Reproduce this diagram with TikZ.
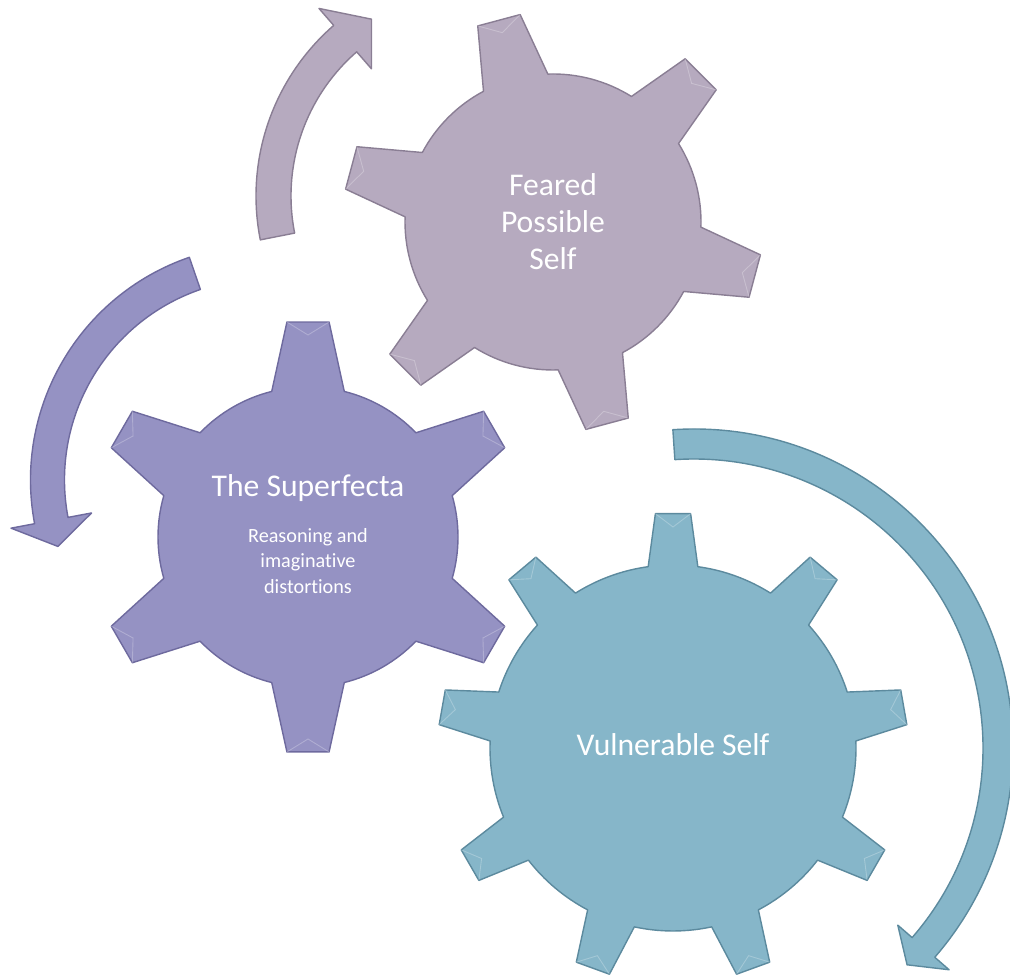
\documentclass[tikz,border=0pt]{standalone}
\usepackage{fontspec}
\setmainfont{Carlito}[Ligatures=NoCommon]
\definecolor{fearedfill}{RGB}{182,170,191}
\definecolor{fearededge}{RGB}{138,126,148}
\definecolor{superfill}{RGB}{149,146,195}
\definecolor{superedge}{RGB}{110,106,158}
\definecolor{vulnfill}{RGB}{134,182,201}
\definecolor{vulnedge}{RGB}{92,138,158}

\tikzset{
  gearline/.style={line width=0.8pt, line join=round},
  fearedgear/.style={fill=fearedfill, draw=fearededge},
  supergear/.style={fill=superfill, draw=superedge},
  vulngear/.style={fill=vulnfill, draw=vulnedge},
  facet/.style={draw=white, opacity=0.25, line width=0.5pt},
  title/.style={text=white, align=center, font=\fontsize{18}{21}\selectfont},
  subtitle/.style={text=white, align=center, font=\fontsize{11.5}{14.6}\selectfont}
}

% #1 style, #2 centre, #3 teeth, #4 body radius, #5 tip radius,
% #6 first tooth angle, #7 half angle at the base, #8 half angle at the tip
\newcommand{\gear}[8]{%
  \draw[gearline,#1,shift={#2}] (#6-#7:#4)
    \foreach \i [evaluate=\i as \ang using #6+(\i-1)*360/#3,
                 evaluate=\i as \nxt using #6+\i*360/#3-#7] in {1,...,#3}{
      -- (\ang-#7:#4) -- (\ang-#8:#5) -- (\ang+#8:#5) -- (\ang+#7:#4)
      arc[start angle=\ang+#7, end angle=\nxt, radius=#4]
    } -- cycle;
  \foreach \i [evaluate=\i as \ang using #6+(\i-1)*360/#3] in {1,...,#3}
    \draw[facet,shift={#2}] (\ang-#8:#5) -- (\ang:#5-14) -- (\ang+#8:#5);
}

% #1 style, #2 centre, #3 mid radius, #4 half width, #5 half width of the head,
% #6 tail angle, #7 angle at the head, #8 angle of the tip
\newcommand{\bentarrow}[8]{%
  \draw[gearline,#1,shift={#2}] (#6:#3+#4)
    arc[start angle=#6, end angle=#7, radius=#3+#4]
    -- (#7:#3+#5) -- (#8:#3) -- (#7:#3-#5) -- (#7:#3-#4)
    arc[start angle=#7, end angle=#6, radius=#3-#4] -- cycle;
}

\begin{document}
\begin{tikzpicture}[x=0.02cm,y=0.02cm]
  \useasboundingbox (0,0) rectangle (1010,979);

  % arrows round the gears
  \bentarrow{fearedgear}{(482,783)}{208.5}{17.5}{40}{191.2}{131}{122}
  \bentarrow{supergear}{(266,499)}{218.5}{17}{41}{109}{190.7}{197.7}
  \bentarrow{vulngear}{(694,231)}{304}{15}{34}{93.8}{-41}{-45.5}

  % gears
  \gear{fearedgear}{(553,757)}{6}{148}{210}{105}{13}{6}
  \gear{supergear}{(308,442)}{6}{150}{216}{90}{14}{5.6}
  \gear{vulngear}{(673,231)}{9}{183}{235}{90}{7.8}{4.3}

  \node[title] (feared) at (553,757) {Feared\\Possible\\Self};
  \node[title] (superfecta) at (308,491) {The Superfecta};
  \node[subtitle] (distortions) at (308,418) {Reasoning and\\imaginative\\distortions};
  \node[title] (vulnerable) at (673,234) {Vulnerable Self};
\end{tikzpicture}
\end{document}
